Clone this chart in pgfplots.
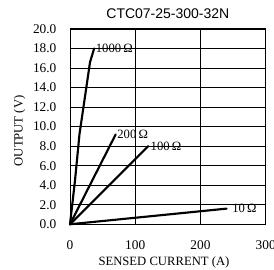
\documentclass[border=0pt]{standalone}
\usepackage{fontspec}
\setmainfont{Liberation Serif}
\newfontfamily\arial{Liberation Sans}
\usepackage{pgfplots}
\pgfplotsset{compat=1.18}
\begin{document}
\begin{tikzpicture}
\begin{axis}[
  at={(0,0)}, anchor=south west,
  scale only axis, width=146.8pt, height=146.5pt,
  xmin=0, xmax=300, ymin=0, ymax=20,
  xtick={0,100,200,300}, ytick={0,2,...,20},
  grid=major, major grid style={black, line width=0.5pt},
  axis line style={black, line width=0.7pt},
  major tick length=0pt,
  /pgf/number format/assume math mode=true,
  yticklabel style={/pgf/number format/fixed, /pgf/number format/fixed zerofill, /pgf/number format/precision=1, font=\fontsize{10}{12}\selectfont, xshift=-6.7pt},
  xticklabel style={font=\fontsize{10}{12}\selectfont, yshift=-9pt},
  title={CTC07-25-300-32N},
  title style={font=\arial\fontsize{10.5}{12}\selectfont, at={(axis description cs:0.5,1)}, anchor=base, yshift=2pt},
  xlabel={SENSED CURRENT (A)},
  xlabel style={font=\fontsize{9.5}{11}\selectfont, at={(axis description cs:0.48,0)}, anchor=north, yshift=-20.5pt},
  ylabel={OUTPUT (V)},
  ylabel style={font=\fontsize{9.5}{11}\selectfont, at={(axis description cs:-0.257,0.478)}, anchor=center},
  clip=false,
]
\addplot[black, no markers, line width=1.6pt, line join=round, line cap=round] coordinates {(0,0) (7.7,4.5) (14.5,9.2) (30.7,16.6) (37,18)}
  node[pos=1, anchor=west, inner sep=0.5pt, font=\fontsize{9.5}{11}\selectfont]{1000\,Ω};
\addplot[black, no markers, line width=1.6pt, line join=round, line cap=round] coordinates {(0,0) (70,9.2)}
  node[pos=1, anchor=west, inner sep=0.5pt, font=\fontsize{9.5}{11}\selectfont]{200\,Ω};
\addplot[black, no markers, line width=1.6pt, line join=round, line cap=round] coordinates {(0,0) (120,8.0)}
  node[pos=1, anchor=west, inner sep=0.5pt, xshift=0.5pt, font=\fontsize{9.5}{11}\selectfont]{100\,Ω};
\addplot[black, no markers, line width=1.6pt, line join=round, line cap=round] coordinates {(0,0) (240,1.6)}
  node[pos=1, anchor=west, inner sep=0.5pt, xshift=3pt, font=\fontsize{9.5}{11}\selectfont]{10\,Ω};
\end{axis}
\pgfresetboundingbox
\useasboundingbox (-52.5pt,-34.3pt) rectangle (153pt,168.2pt);
\end{tikzpicture}
\end{document}
